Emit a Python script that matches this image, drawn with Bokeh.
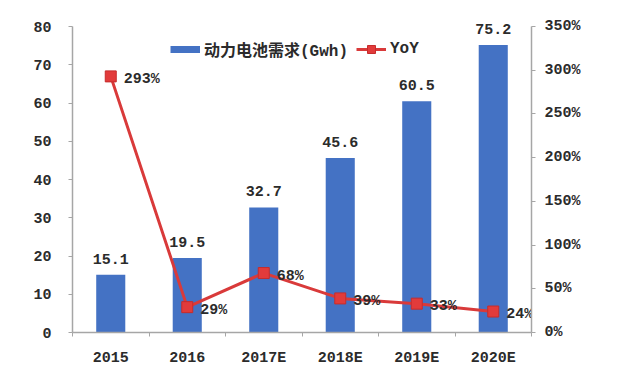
from bokeh.plotting import figure
from bokeh.models import (Range1d, LinearAxis, FixedTicker, NumeralTickFormatter,
                          ColumnDataSource, Legend, LegendItem)
from bokeh.core.properties import value
from bokeh.embed import file_html
from bokeh.resources import INLINE

categories = ["2015", "2016", "2017E", "2018E", "2019E", "2020E"]
demand_gwh = [15.1, 19.5, 32.7, 45.6, 60.5, 75.2]
yoy = [2.93, 0.29, 0.68, 0.39, 0.33, 0.24]
yoy_labels = ["293%", "29%", "68%", "39%", "33%", "24%"]
left_ticks = [0, 10, 20, 30, 40, 50, 60, 70, 80]
right_ticks = [0, 0.5, 1.0, 1.5, 2.0, 2.5, 3.0, 3.5]

BLUE = "#4472C4"
RED = "#D93A3A"
NUM_FONT = "Liberation Mono"
NUM_SIZE = "15px"
NUM_STYLE = "bold"
AXIS_COLOR = "#A6A6A6"
TEXT_COLOR = "#2b2b2b"

LEFT_MAX, RIGHT_MAX = 80, 3.5
TOP_PAD = 84.2  # visible range top so labels above the axis end are not clipped

xs = list(range(len(categories)))
src = ColumnDataSource(dict(
    x=xs, demand=demand_gwh, demand_lbl=[f"{v:.1f}" for v in demand_gwh],
    yoy=yoy, yoy_lbl=yoy_labels,
))

p = figure(width=617, height=373, output_backend="svg", toolbar_location=None,
           x_range=Range1d(-0.5, len(categories) - 0.5), y_range=Range1d(0, TOP_PAD),
           min_border_left=72, min_border_right=86, min_border_top=10, min_border_bottom=41)
p.outline_line_color = None
p.grid.visible = False
p.background_fill_color = "white"
p.border_fill_color = "white"
p.extra_y_ranges = {"yoy": Range1d(0, RIGHT_MAX * TOP_PAD / LEFT_MAX)}

bars = p.vbar(x="x", top="demand", width=0.38, source=src, fill_color=BLUE, line_color=None)
p.text(x="x", y="demand", text="demand_lbl", source=src, text_align="center",
       text_baseline="middle", y_offset=-16, text_font=value(NUM_FONT),
       text_font_size=value(NUM_SIZE), text_font_style=NUM_STYLE, text_color=TEXT_COLOR)

ln = p.line(x="x", y="yoy", source=src, y_range_name="yoy", line_color=RED, line_width=3)
sq = p.scatter(x="x", y="yoy", source=src, y_range_name="yoy", marker="square", size=11,
               fill_color="#E23B3B", line_color="#C62C2C", line_width=1)
p.text(x="x", y="yoy", text="yoy_lbl", source=src, y_range_name="yoy", text_align="left",
       text_baseline="middle", x_offset=13, y_offset=3, text_font=value(NUM_FONT),
       text_font_size=value(NUM_SIZE), text_font_style=NUM_STYLE, text_color=TEXT_COLOR)

# legend proxy for the bar series (thin bar swatch), draws nothing in the plot
bar_proxy = p.line(x=[float("nan")], y=[float("nan")], line_color=BLUE, line_width=7)

# axes
xa = p.xaxis[0]
xa.ticker = FixedTicker(ticks=xs, minor_ticks=[i - 0.5 for i in range(len(categories) + 1)])
xa.major_label_overrides = {i: c for i, c in zip(xs, categories)}
xa.major_tick_out = 0
xa.major_tick_in = 0
xa.minor_tick_out = 4
xa.minor_tick_in = 0
xa.minor_tick_line_color = AXIS_COLOR
xa.axis_line_color = AXIS_COLOR
xa.axis_line_width = 1.5
xa.major_label_standoff = 13
xa.major_label_text_font = NUM_FONT
xa.major_label_text_font_size = NUM_SIZE
xa.major_label_text_font_style = NUM_STYLE
xa.major_label_text_color = TEXT_COLOR

ya = p.yaxis[0]
ya.ticker = FixedTicker(ticks=left_ticks, minor_ticks=[])
ya.bounds = (0, LEFT_MAX)
ya.major_tick_out = 4
ya.major_tick_in = 0
ya.major_tick_line_color = AXIS_COLOR
ya.axis_line_color = AXIS_COLOR
ya.axis_line_width = 1.5
ya.major_label_standoff = 17
ya.major_label_text_font = NUM_FONT
ya.major_label_text_font_size = NUM_SIZE
ya.major_label_text_font_style = NUM_STYLE
ya.major_label_text_color = TEXT_COLOR

ra = LinearAxis(y_range_name="yoy", ticker=FixedTicker(ticks=right_ticks, minor_ticks=[]),
                formatter=NumeralTickFormatter(format="0%"), bounds=(0, RIGHT_MAX))
ra.major_tick_out = 4
ra.major_tick_in = 0
ra.major_tick_line_color = AXIS_COLOR
ra.axis_line_color = AXIS_COLOR
ra.axis_line_width = 1.5
ra.major_label_standoff = 9
ra.major_label_text_font = NUM_FONT
ra.major_label_text_font_size = NUM_SIZE
ra.major_label_text_font_style = NUM_STYLE
ra.major_label_text_color = TEXT_COLOR
p.add_layout(ra, "right")

legend = Legend(items=[
    LegendItem(label="动力电池需求(Gwh)", renderers=[bar_proxy]),
    LegendItem(label="YoY", renderers=[ln, sq]),
], location=(98, 271), orientation="horizontal")
legend.background_fill_alpha = 0
legend.border_line_alpha = 0
legend.padding = 0
legend.margin = 0
legend.spacing = 8
legend.glyph_width = 30
legend.glyph_height = 20
legend.label_standoff = 4
legend.label_text_font = "'Liberation Mono', 'Noto Sans CJK SC'"
legend.label_text_font_size = "16px"
legend.label_text_font_style = "bold"
legend.label_text_color = TEXT_COLOR
p.add_layout(legend)

open("out.html", "w").write(file_html(p, INLINE))
